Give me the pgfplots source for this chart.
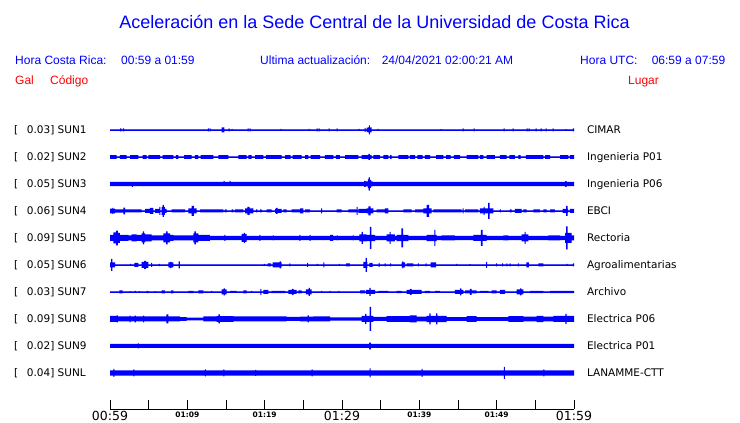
\documentclass[border=0pt]{standalone}
\usepackage{pgfplots}
\usepackage{pgfplotstable}
\pgfplotsset{compat=1.18}
\usepackage{fontspec}
\setmainfont{DejaVu Sans}
\newfontfamily\arialf{Liberation Sans}
\definecolor{wave}{RGB}{0,0,255}
\definecolor{hred}{RGB}{255,0,0}

% each trace: t (minutes after 00:59), upper and lower envelope in px
\pgfplotstableread{
t up dn
0 0.55 -0.55
1.32 1.5 -1.5
1.48 0.55 -0.55
1.66 1.5 -1.5
1.82 0.55 -0.55
12.65 1.5 -1.5
12.78 0.55 -0.55
12.87 1.5 -1.5
13.00 0.55 -0.55
14.45 2.5 -2.5
14.80 0.55 -0.55
15.33 1.5 -1.5
15.46 0.55 -0.55
15.72 1.0 -1.0
15.85 0.55 -0.55
17.79 1.5 -1.5
17.92 0.55 -0.55
18.04 1.5 -1.5
18.17 0.55 -0.55
22.05 1.0 -1.0
22.18 0.55 -0.55
25.67 1.0 -1.0
25.80 0.55 -0.55
26.71 1.5 -1.5
26.84 0.55 -0.55
26.97 1.5 -1.5
27.10 0.55 -0.55
28.26 1.5 -1.5
28.39 0.55 -0.55
29.29 1.5 -1.5
29.42 0.55 -0.55
32.14 1.0 -1.0
32.27 0.55 -0.55
32.91 2.0 -2.0
33.04 0.55 -0.55
33.17 2.0 -2.0
33.30 2.5 -2.5
33.46 4.5 -4.5
33.62 2.5 -2.5
33.82 0.55 -0.55
34.60 1.0 -1.0
34.73 0.55 -0.55
42.74 0.9 -0.9
42.87 0.55 -0.55
45.59 1.5 -1.5
45.72 0.55 -0.55
47.01 1.5 -1.5
47.14 0.55 -0.55
50.89 1.5 -1.5
51.02 0.55 -0.55
52.05 1.5 -1.5
52.18 0.55 -0.55
53.86 1.5 -1.5
53.99 0.55 -0.55
54.12 1.5 -1.5
54.25 0.55 -0.55
55.03 1.5 -1.5
55.16 0.55 -0.55
55.68 1.5 -1.5
55.81 0.55 -0.55
56.33 1.5 -1.5
56.46 0.55 -0.55
57.23 1.5 -1.5
57.36 0.55 -0.55
58.91 0.9 -0.9
59.04 0.55 -0.55
59.87 1.5 -1.5
60 1.5 -1.5
}\sunA

\pgfplotstableread{
t up dn
0 1.8 -1.8
0.87 0.55 -0.55
1.29 1.8 -1.8
2.16 0.55 -0.55
2.59 1.8 -1.8
3.66 0.55 -0.55
4.23 1.8 -1.8
4.75 0.55 -0.55
4.95 1.8 -1.8
6.47 0.55 -0.55
6.81 1.8 -1.8
8.19 0.55 -0.55
8.53 1.8 -1.8
8.83 0.55 -0.55
9.57 1.8 -1.8
10.56 0.55 -0.55
10.99 1.8 -1.8
11.42 0.55 -0.55
11.73 1.8 -1.8
13.36 0.55 -0.55
14.00 1.8 -1.8
15.30 0.55 -0.55
16.59 1.8 -1.8
17.68 0.55 -0.55
17.88 1.8 -1.8
18.32 0.55 -0.55
18.75 1.8 -1.8
19.82 0.55 -0.55
20.17 1.8 -1.8
22.20 0.55 -0.55
22.63 1.8 -1.8
23.37 0.55 -0.55
23.62 1.8 -1.8
24.79 0.55 -0.55
25.22 1.8 -1.8
25.64 0.55 -0.55
25.95 1.8 -1.8
27.16 0.55 -0.55
27.80 1.8 -1.8
28.88 0.55 -0.55
29.22 1.8 -1.8
29.74 0.55 -0.55
30.39 1.8 -1.8
32.11 0.55 -0.55
32.55 1.8 -1.8
33.40 3.0 -3.0
33.60 1.8 -1.8
33.84 0.55 -0.55
34.05 1.8 -1.8
34.91 0.55 -0.55
35.34 1.8 -1.8
35.99 0.55 -0.55
36.21 1.8 -1.8
36.43 0.55 -0.55
37.28 1.8 -1.8
38.57 0.55 -0.55
38.79 1.8 -1.8
39.44 0.55 -0.55
39.74 1.8 -1.8
40.43 0.55 -0.55
40.73 1.8 -1.8
41.38 0.55 -0.55
42.16 1.8 -1.8
43.10 0.55 -0.55
43.45 1.8 -1.8
44.06 0.55 -0.55
44.48 1.8 -1.8
45.26 0.55 -0.55
46.13 1.8 -1.8
47.62 0.55 -0.55
47.84 1.8 -1.8
48.27 0.55 -0.55
48.71 1.8 -1.8
49.78 0.55 -0.55
50.43 1.8 -1.8
51.30 0.55 -0.55
51.63 1.8 -1.8
52.37 0.55 -0.55
52.80 1.8 -1.8
53.11 0.55 -0.55
53.79 1.8 -1.8
56.03 0.55 -0.55
56.25 1.8 -1.8
56.90 0.55 -0.55
58.19 1.8 -1.8
59.26 0.55 -0.55
59.48 1.8 -1.8
60 1.8 -1.8
}\sunB

\pgfplotstableread{
t up dn
0 2.2 -2.2
2.82 2.2 -3
2.95 2.2 -2.2
14.68 3 -2.2
14.81 2.2 -2.2
15.46 3 -2.2
15.59 2.2 -2.2
32.85 3 -3
33.05 2.5 -2.5
33.35 4.5 -4.5
33.45 6.7 -6.7
33.60 4 -4
33.75 2.5 -2.5
33.95 2.2 -2.2
58.85 2.8 -2.8
59.05 2.2 -2.2
60 2.2 -2.2
}\sunC

\pgfplotstableread{
t up dn
0 2.3 -2.3
0.30 3 -3
0.40 2.3 -2.3
0.65 1.7 -1.7
1.72 3.3 -3.3
1.94 1.5 -1.5
4.10 0.55 -0.55
4.53 2 -2
5.17 3 -3
5.60 0.55 -0.55
5.82 2 -2
6.37 4 -4
6.50 0.55 -0.55
6.69 4 -4
6.82 6 -6
6.96 4 -4
7.11 2 -2
7.33 0.55 -0.55
7.98 1.5 -1.5
9.70 0.55 -0.55
10.12 2.5 -2.5
10.54 5 -5
10.86 2.5 -2.5
11.21 0.55 -0.55
11.64 1.5 -1.5
14.65 0.55 -0.55
14.87 1.5 -1.5
15.09 0.55 -0.55
15.74 1.5 -1.5
15.94 0.55 -0.55
16.16 1.5 -1.5
17.24 0.55 -0.55
17.46 2.5 -2.5
17.78 4 -4
18.04 2.5 -2.5
18.53 0.55 -0.55
18.88 1.5 -1.5
19.05 0.55 -0.55
19.40 1.5 -1.5
19.62 0.55 -0.55
20.26 1.5 -1.5
20.91 0.55 -0.55
21.34 2 -2
21.46 3 -3
21.68 2 -2
22.20 0.55 -0.55
22.41 1.5 -1.5
22.85 0.55 -0.55
23.50 1.5 -1.5
24.57 2.5 -2.5
25.00 0.55 -0.55
25.22 1.5 -1.5
25.86 0.55 -0.55
27.31 2.5 -2.5
27.44 0.55 -0.55
29.31 1.5 -1.5
29.96 0.55 -0.55
30.81 1.5 -1.5
31.90 4 -4
32.03 0.55 -0.55
32.11 2 -2
33.19 2.5 -2.5
33.42 4.5 -4.5
33.69 2.5 -2.5
34.05 0.55 -0.55
34.49 1.5 -1.5
35.56 2.5 -2.5
35.99 0.55 -0.55
37.93 1.5 -1.5
39.01 0.55 -0.55
39.44 1.5 -1.5
40.51 2.5 -2.5
40.93 6 -6
41.25 2.5 -2.5
41.60 0.55 -0.55
41.81 1.5 -1.5
45.48 0.55 -0.55
45.61 2.5 -2.5
45.74 0.55 -0.55
45.91 1.5 -1.5
47.62 0.55 -0.55
47.84 2.5 -2.5
48.30 4 -4
48.45 2.5 -2.5
48.90 8 -8
49.10 2.5 -2.5
49.56 0.55 -0.55
50.43 1.5 -1.5
50.56 0.55 -0.55
51.72 1.5 -1.5
51.94 0.55 -0.55
52.37 2 -2
53.24 0.55 -0.55
53.44 1.5 -1.5
53.88 0.55 -0.55
54.74 1.5 -1.5
55.60 0.55 -0.55
56.03 1.5 -1.5
56.47 0.55 -0.55
56.90 1.5 -1.5
57.54 0.55 -0.55
58.54 2 -2
58.97 5 -5
59.16 2 -2
59.25 0.55 -0.55
59.48 2 -2
60 2 -2
}\sunD

\pgfplotstableread{
t up dn
0 3 -3
0.43 5.5 -5.5
0.78 7.3 -7.3
1.03 5 -5
1.29 3 -3
2.37 2.5 -2.5
2.81 3.5 -3.5
3.45 3 -3
4.10 4.5 -4.5
4.25 6.5 -6.5
4.40 4.5 -4.5
4.53 3.5 -3.5
5.39 2.5 -2.5
6.89 4.5 -4.5
7.25 6.5 -6.5
7.45 4.5 -4.5
7.76 3 -3
8.19 2.5 -2.5
10.77 4.5 -4.5
10.90 6.5 -6.5
11.10 4.5 -4.5
11.42 3 -3
12.93 2.2 -2.2
14.80 3 -3
14.93 2.2 -2.2
17.03 4 -4
17.30 5 -5
17.45 4 -4
17.68 2.2 -2.2
19.33 3 -3
19.46 2.2 -2.2
21.05 2.5 -2.5
21.18 2.2 -2.2
24.50 3 -3
24.63 2.2 -2.2
25.80 3 -3
25.93 2.2 -2.2
28.45 3 -3
28.84 2.2 -2.2
29.33 2.5 -2.5
29.46 2.2 -2.2
31.40 2.5 -2.5
31.53 2.2 -2.2
32.24 3.5 -3.5
32.55 6 -6
32.70 3.5 -3.5
33.19 3.2 -3.2
33.62 11 -11
33.81 3.2 -3.2
34.27 2.2 -2.2
35.78 3.5 -3.5
36.15 6 -6
36.30 3.5 -3.5
36.85 2.2 -2.2
37.07 3.2 -3.2
37.69 9.5 -9.5
37.89 3.2 -3.2
38.57 2.2 -2.2
40.95 3.2 -3.2
41.96 8 -8
42.09 3.2 -3.2
42.25 2.2 -2.2
42.89 2.5 -2.5
44.61 2.2 -2.2
46.98 3 -3
47.97 8 -8
48.17 3 -3
48.71 2.2 -2.2
50.86 2.5 -2.5
51.50 2.2 -2.2
53.24 3.5 -3.5
53.60 6 -6
53.75 3.5 -3.5
54.09 2.2 -2.2
56.68 2.5 -2.5
58.19 2.2 -2.2
58.84 5 -5
58.97 11.5 -11.5
59.16 5 -5
59.70 2.5 -2.5
60 2.5 -2.5
}\sunE

\pgfplotstableread{
t up dn
0 2.5 -2.5
0.13 6 -6
0.32 2.5 -2.5
0.65 0.55 -0.55
2.61 1 -1
2.74 0.55 -0.55
3.14 2 -2
3.66 0.55 -0.55
4.10 3 -3
4.40 4 -4
4.66 3 -3
4.95 0.55 -0.55
5.33 2 -2
5.46 0.55 -0.55
6.31 1.2 -1.2
6.44 0.55 -0.55
7.54 2.5 -2.5
7.75 3.2 -3.2
7.95 2.5 -2.5
8.19 0.55 -0.55
8.86 3.5 -3.5
9.05 0.55 -0.55
19.89 1 -1
20.02 0.55 -0.55
20.39 1.5 -1.5
20.82 0.55 -0.55
21.04 2.5 -2.5
21.92 3.5 -3.5
22.11 2.5 -2.5
22.20 0.55 -0.55
23.21 1.5 -1.5
23.34 0.55 -0.55
25.50 2 -2
25.63 0.55 -0.55
26.75 1 -1
26.88 0.55 -0.55
27.60 2.5 -2.5
27.73 0.55 -0.55
29.59 1 -1
29.72 0.55 -0.55
30.52 1.5 -1.5
31.03 0.55 -0.55
32.75 3 -3
33.04 7 -7
33.23 3 -3
33.27 0.55 -0.55
33.53 2 -2
33.97 0.55 -0.55
34.72 2 -2
34.85 0.55 -0.55
35.50 1.5 -1.5
35.63 0.55 -0.55
36.23 1.5 -1.5
36.36 0.55 -0.55
37.72 2.5 -2.5
37.80 3.5 -3.5
37.95 2.5 -2.5
38.15 0.55 -0.55
38.37 1.5 -1.5
39.22 0.55 -0.55
39.80 1.5 -1.5
39.93 0.55 -0.55
40.80 1.5 -1.5
40.93 0.55 -0.55
41.47 2.5 -2.5
42.16 0.55 -0.55
44.77 1 -1
44.90 0.55 -0.55
46.49 0.9 -0.9
46.62 0.55 -0.55
48.65 3 -3
48.78 0.55 -0.55
49.94 1.5 -1.5
50.07 0.55 -0.55
50.72 1.5 -1.5
50.85 0.55 -0.55
51.24 1.5 -1.5
51.37 0.55 -0.55
51.66 1.5 -1.5
51.79 0.55 -0.55
52.73 1.5 -1.5
52.86 0.55 -0.55
53.85 2.5 -2.5
54.15 0.55 -0.55
55.38 1.5 -1.5
56.03 0.55 -0.55
59.05 1 -1
59.18 0.55 -0.55
59.85 1.5 -1.5
60 1.5 -1.5
}\sunF

\pgfplotstableread{
t up dn
0 0.55 -0.55
1.20 1.5 -1.5
1.64 0.55 -0.55
2.55 0.9 -0.9
2.68 0.55 -0.55
3.20 1 -1
3.33 0.55 -0.55
3.73 0.9 -0.9
3.86 0.55 -0.55
4.75 1.2 -1.2
4.95 0.55 -0.55
5.76 0.9 -0.9
5.89 0.55 -0.55
6.69 1.5 -1.5
7.11 0.55 -0.55
7.89 1.5 -1.5
8.19 0.55 -0.55
10.12 1.2 -1.2
10.77 0.55 -0.55
11.42 1.5 -1.5
12.07 0.55 -0.55
13.09 1 -1
13.22 0.55 -0.55
14.44 2.5 -2.5
14.68 3.5 -3.5
14.85 2.5 -2.5
15.09 0.55 -0.55
15.52 1 -1
16.38 0.55 -0.55
17.24 1.5 -1.5
17.68 0.55 -0.55
18.26 1 -1
18.39 0.55 -0.55
19.46 3 -3
19.59 0.55 -0.55
19.82 2 -2
20.47 0.55 -0.55
20.91 1.2 -1.2
22.63 0.55 -0.55
23.06 2 -2
23.53 3 -3
23.73 2 -2
24.14 0.55 -0.55
24.35 1.5 -1.5
24.79 0.55 -0.55
25.34 2.5 -2.5
25.67 4 -4
25.86 2.5 -2.5
26.08 0.55 -0.55
27.31 1 -1
27.44 0.55 -0.55
28.39 1 -1
28.52 0.55 -0.55
29.52 1 -1
29.65 0.55 -0.55
32.33 1.5 -1.5
32.97 0.55 -0.55
33.10 2 -2
33.53 4 -4
33.71 2 -2
34.27 0.55 -0.55
34.69 1 -1
35.99 0.55 -0.55
37.07 1.2 -1.2
37.72 0.55 -0.55
38.37 2 -2
38.79 3 -3
38.99 2 -2
40.31 0.55 -0.55
40.73 1.2 -1.2
41.38 0.55 -0.55
42.03 1 -1
42.67 0.55 -0.55
44.61 2 -2
45.26 3.5 -3.5
45.45 2 -2
45.69 0.55 -0.55
45.91 1.5 -1.5
46.55 3 -3
46.75 1.5 -1.5
47.42 0.55 -0.55
47.84 1 -1
48.92 0.55 -0.55
49.36 1.5 -1.5
50.00 0.55 -0.55
50.43 2 -2
51.08 0.55 -0.55
52.59 2.5 -2.5
53.02 3.5 -3.5
53.21 2.5 -2.5
53.44 0.55 -0.55
54.31 1.2 -1.2
56.03 0.55 -0.55
56.90 1.2 -1.2
60 1.2 -1.2
}\sunG

\pgfplotstableread{
t up dn
0 3 -3
0.87 3.5 -3.5
1.03 2.5 -2.5
2.55 3.3 -3.3
2.68 2.5 -2.5
3.20 3.3 -3.3
3.33 2.5 -2.5
4.27 3.3 -3.3
4.40 2.5 -2.5
7.30 4.5 -4.5
7.55 2.5 -2.5
9.05 1.8 -1.8
9.92 1.3 -1.3
12.07 2.5 -2.5
13.80 2.8 -2.8
14.03 4.5 -4.5
14.22 2.8 -2.8
15.94 2.5 -2.5
22.85 2 -2
24.57 2.3 -2.3
25.54 3.5 -3.5
25.73 2.3 -2.3
26.29 2.5 -2.5
28.45 1.7 -1.7
32.55 3 -3
33.00 5 -5
33.15 3 -3
33.58 12 -12
33.75 3 -3
34.05 2 -2
35.78 2.8 -2.8
38.79 3.5 -3.5
39.66 2.3 -2.3
40.95 3.2 -3.2
41.29 5.5 -5.5
41.47 3.2 -3.2
42.16 5.5 -5.5
42.32 3.2 -3.2
43.54 1.8 -1.8
46.13 2.8 -2.8
47.42 1.8 -1.8
51.50 2.8 -2.8
53.44 2.3 -2.3
55.18 3.2 -3.2
56.03 2.3 -2.3
57.32 3 -3
58.88 5 -5
59.05 3 -3
60 3 -3
}\sunH

\pgfplotstableread{
t up dn
0 2 -2
3.60 2.5 -2.5
3.73 2 -2
33.50 3.3 -3.3
33.72 2 -2
60 2 -2
}\sunI

\pgfplotstableread{
t up dn
0 2.7 -2.7
0.43 4 -4
0.56 2.7 -2.7
3.01 3.5 -3.5
3.14 2.7 -2.7
12.28 3.5 -3.5
12.41 2.7 -2.7
14.65 3.5 -3.5
14.78 2.7 -2.7
18.75 3 -3
18.88 2.7 -2.7
26.08 3.5 -3.5
26.21 2.7 -2.7
33.56 4.5 -4.5
33.69 2.7 -2.7
40.31 4 -4
40.44 2.7 -2.7
50.92 6 -6
51.05 2.7 -2.7
56.03 3.5 -3.5
56.16 2.7 -2.7
60 2.7 -2.7
}\sunL

\pgfplotsset{
  trace/.style={scale only axis, width=464pt, height=24pt, xmin=0, xmax=60,
    ymin=-12, ymax=12, hide axis, clip=false, anchor=south west},
  env/.style={fill=wave, draw=none, const plot, forget plot},
}
\newcommand{\trace}[2]{%
  \begin{axis}[trace, at={(110pt,#2)}]
    \addplot[env] table[x=t,y=up]{#1} \closedcycle;
    \addplot[env] table[x=t,y=dn]{#1} \closedcycle;
    \addplot[wave, line width=0.4pt, forget plot] coordinates {(0,0) (60,0)};
  \end{axis}}

\begin{document}
\begin{tikzpicture}[x=1pt,y=1pt]
\useasboundingbox (0,0) rectangle (740,423);
\fill[white] (0,0) rectangle (740,423);

% title and header
\node[anchor=base, inner sep=0pt, text=wave, font=\arialf\fontsize{18}{21}\selectfont]
  at (374.5,394.5) {Aceleración en la Sede Central de la Universidad de Costa Rica};
\begin{scope}[every node/.style={anchor=base west, inner sep=0pt, text=wave, font=\arialf\fontsize{12}{14}\selectfont}]
  \node at (15,358.5) {Hora Costa Rica:};
  \node at (121,358.5) {00:59 a 01:59};
  \node at (260,358.5) {Ultima actualización:};
  \node at (381.6,358.5) {24/04/2021 02:00:21 AM};
  \node at (580,358.5) {Hora UTC:};
  \node at (651.6,358.5) {06:59 a 07:59};
\end{scope}
\begin{scope}[every node/.style={anchor=base west, inner sep=0pt, text=hred, font=\arialf\fontsize{12}{14}\selectfont}]
  \node at (15,338.5) {Gal};
  \node at (50,338.5) {Código};
  \node at (628,338.5) {Lugar};
\end{scope}

% station labels
\begin{scope}[every node/.style={anchor=base west, inner sep=0pt, font=\fontsize{10.5}{12}\selectfont}]
  \foreach \yy/\gal/\cod/\lug in {289/0.03/SUN1/CIMAR, 262/0.02/SUN2/Ingenieria P01,
      235/0.05/SUN3/Ingenieria P06, 208/0.06/SUN4/EBCI, 181/0.09/SUN5/Rectoria,
      154/0.05/SUN6/Agroalimentarias, 127/0.03/SUN7/Archivo, 100/0.09/SUN8/Electrica P06,
      73/0.02/SUN9/Electrica P01, 46/0.04/SUNL/LANAMME-CTT}{
    \node at (14,\yy) {[};
    \node at (26.7,\yy) {\gal] \cod};
    \node at (586.8,\yy) {\lug};
  }
\end{scope}

% traces
\trace{\sunA}{281pt}
\trace{\sunB}{254pt}
\trace{\sunC}{227pt}
\trace{\sunD}{200pt}
\trace{\sunE}{173pt}
\trace{\sunF}{146pt}
\trace{\sunG}{119pt}
\trace{\sunH}{92pt}
\trace{\sunI}{65pt}
\trace{\sunL}{38pt}

% time axis
\begin{axis}[scale only axis, width=464pt, height=20pt, at={(110pt,14pt)}, anchor=south west,
  xmin=0, xmax=60, ymin=0, ymax=1,
  axis x line*=bottom, axis y line=none, ytick=\empty,
  axis line style={-, black, line width=0.8pt},
  xtick={0,5,...,60}, tick align=inside, major tick length=9pt,
  tick style={black, line width=0.8pt},
  xticklabel style={anchor=north, inner sep=0pt, yshift=-2.5pt, text=black},
  xticklabels={{\fontsize{12.5}{14}\selectfont 00:59},{},
    {\bfseries\fontsize{7.5}{9}\selectfont 01:09},{},
    {\bfseries\fontsize{7.5}{9}\selectfont 01:19},{},
    {\fontsize{12.5}{14}\selectfont 01:29},{},
    {\bfseries\fontsize{7.5}{9}\selectfont 01:39},{},
    {\bfseries\fontsize{7.5}{9}\selectfont 01:49},{},
    {\fontsize{12.5}{14}\selectfont 01:59}},
  clip=false]
  \addplot[draw=none, forget plot] coordinates {(0,0) (60,0)};
\end{axis}
\end{tikzpicture}
\end{document}
